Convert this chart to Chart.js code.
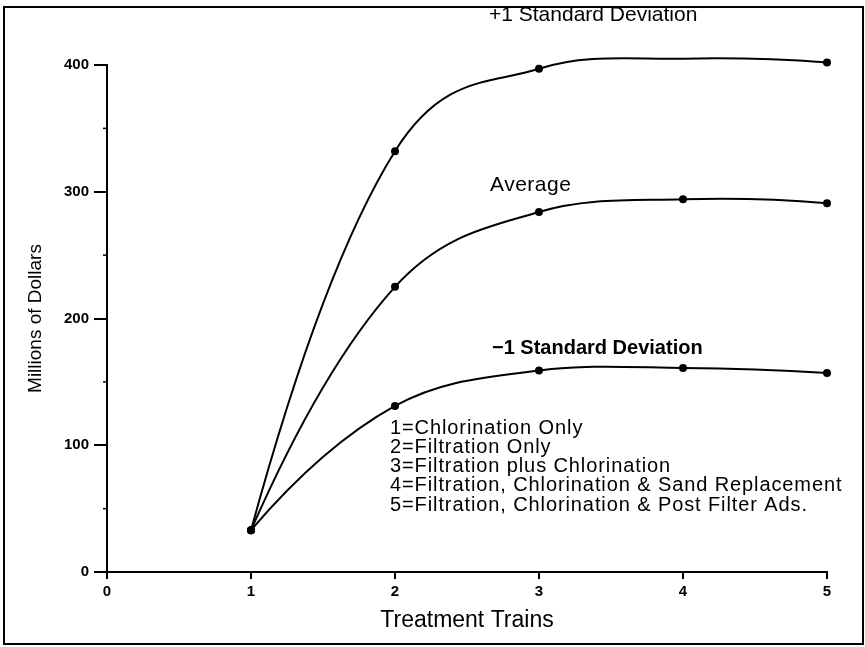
<!DOCTYPE html>
<html>
<head>
<meta charset="utf-8">
<script src="https://cdn.jsdelivr.net/npm/chart.js@4/dist/chart.umd.min.js"></script>
<style>
html,body{margin:0;padding:0;background:#fff;}
canvas{display:block;}
</style>
</head>
<body>
<canvas id="c" width="865" height="647"></canvas>
<script>
// ---- data ----
const trains = [1, 2, 3, 4, 5];
const plusOneSD = [33, 332, 397, 405, 402];
const average = [33, 225, 284, 294, 291];
const minusOneSD = [33, 131, 159, 161, 157];
const xTicks = [0, 1, 2, 3, 4, 5];
const yTicks = [0, 100, 200, 300, 400];
const yMinorTicks = [50, 150, 250, 350];
const seriesLabels = ['+1 Standard Deviation', 'Average', '\u22121 Standard Deviation'];
const legendLines = [
  '1=Chlorination Only',
  '2=Filtration Only',
  '3=Filtration plus Chlorination',
  '4=Filtration, Chlorination & Sand Replacement',
  '5=Filtration, Chlorination & Post Filter Ads.'
];
const xTitle = 'Treatment Trains';
const yTitle = 'Millions of Dollars';

const FONT = '"Liberation Sans", Arial, sans-serif';

function pts(arr){ return trains.map((t,i)=>({x:t, y:arr[i]})); }

const ds = (label, arr) => ({
  label, data: pts(arr),
  borderColor:'#000', backgroundColor:'#000', borderWidth:2,
  pointRadius:4, pointBackgroundColor:'#000', pointBorderWidth:0,
  tension:0.4, capBezierPoints:false, fill:false, clip:false
});

// Smooth curve: parabolic (three-point) tangents, applied to the line element's bezier control points
const smoothCurves = {
  id:'smoothCurves',
  beforeDatasetsDraw(chart){
    const xs = chart.scales.x, ys = chart.scales.y;
    chart.data.datasets.forEach((d, di)=>{
      const meta = chart.getDatasetMeta(di);
      if (!meta.dataset) return;
      meta.dataset.updateControlPoints(chart.chartArea, 'x');
      const v = d.data;
      const n = v.length;
      const m = v.map((p,i)=>{
        if (i === 0) return (-3*v[0].y + 4*v[1].y - v[2].y) / (v[2].x - v[0].x);
        if (i === n-1) return (3*v[n-1].y - 4*v[n-2].y + v[n-3].y) / (v[n-1].x - v[n-3].x);
        return (v[i+1].y - v[i-1].y) / (v[i+1].x - v[i-1].x);
      });
      meta.data.forEach((pt, i)=>{
        const p = v[i];
        if (i > 0) {
          const h = (p.x - v[i-1].x)/3;
          pt.cp1x = xs.getPixelForValue(p.x - h);
          pt.cp1y = ys.getPixelForValue(p.y - m[i]*h);
        }
        if (i < n-1) {
          const h = (v[i+1].x - p.x)/3;
          pt.cp2x = xs.getPixelForValue(p.x + h);
          pt.cp2y = ys.getPixelForValue(p.y + m[i]*h);
        }
      });
      meta.dataset._path = undefined;
    });
  }
};

const annot = {
  id:'annot',
  afterDraw(chart){
    const ctx = chart.ctx;
    const y = chart.scales.y;
    ctx.save();
    // frame
    ctx.strokeStyle='#000'; ctx.lineWidth=2;
    ctx.strokeRect(4, 7, 859, 637);
    // minor y ticks
    ctx.lineWidth=1.5;
    yMinorTicks.forEach(v=>{
      const py = y.getPixelForValue(v);
      ctx.beginPath(); ctx.moveTo(y.right-4, py); ctx.lineTo(y.right, py); ctx.stroke();
    });
    ctx.fillStyle='#000';
    ctx.textBaseline='middle'; ctx.textAlign='left';
    ctx.font = '21px '+FONT;
    ctx.fillText(seriesLabels[0], 489, 15);
    ctx.letterSpacing = '0.5px';
    ctx.fillText(seriesLabels[1], 490, 185);
    ctx.letterSpacing = '0px';
    ctx.font = 'bold 20px '+FONT;
    ctx.fillText(seriesLabels[2], 492, 348);
    ctx.font = '20px '+FONT;
    ctx.letterSpacing = '0.9px';
    legendLines.forEach((s,i)=>{ ctx.fillText(s, 390, 428 + i*19.3); });
    ctx.restore();
  }
};

new Chart(document.getElementById('c'), {
  type:'line',
  data:{ datasets:[ ds(seriesLabels[0], plusOneSD), ds(seriesLabels[1], average), ds(seriesLabels[2], minusOneSD) ] },
  options:{
    responsive:false, animation:false,
    layout:{ padding:{ top:65, right:38, left:24, bottom:13 } },
    plugins:{ legend:{display:false}, tooltip:{enabled:false} },
    scales:{
      x:{
        type:'linear', min:0, max:5,
        afterBuildTicks:(s)=>{ s.ticks = xTicks.map(v=>({value:v})); },
        afterFit:(s)=>{ s.height = 62; },
        border:{ display:true, color:'#000', width:2 },
        grid:{ display:true, drawOnChartArea:false, drawTicks:true, tickLength:7, color:'#000', tickColor:'#000', lineWidth:2 },
        ticks:{ color:'#000', padding:4, font:{ family:FONT, size:15, weight:'bold' }, maxRotation:0 },
        title:{ display:true, text:xTitle, color:'#000', font:{ family:FONT, size:23 }, padding:{top:2,bottom:0} }
      },
      y:{
        type:'linear', min:0, max:400,
        afterBuildTicks:(s)=>{ s.ticks = yTicks.map(v=>({value:v})); },
        afterFit:(s)=>{ s.width = 83; },
        border:{ display:true, color:'#000', width:2 },
        grid:{ display:true, drawOnChartArea:false, drawTicks:true, tickLength:13, color:'#000', tickColor:'#000', lineWidth:2 },
        ticks:{ color:'#000', padding:5, font:{ family:FONT, size:15, weight:'bold' } },
        title:{ display:true, text:yTitle, color:'#000', font:{ family:FONT, size:19 }, padding:{top:0,bottom:0} }
      }
    }
  },
  plugins:[smoothCurves, annot]
});
</script>
</body>
</html>
